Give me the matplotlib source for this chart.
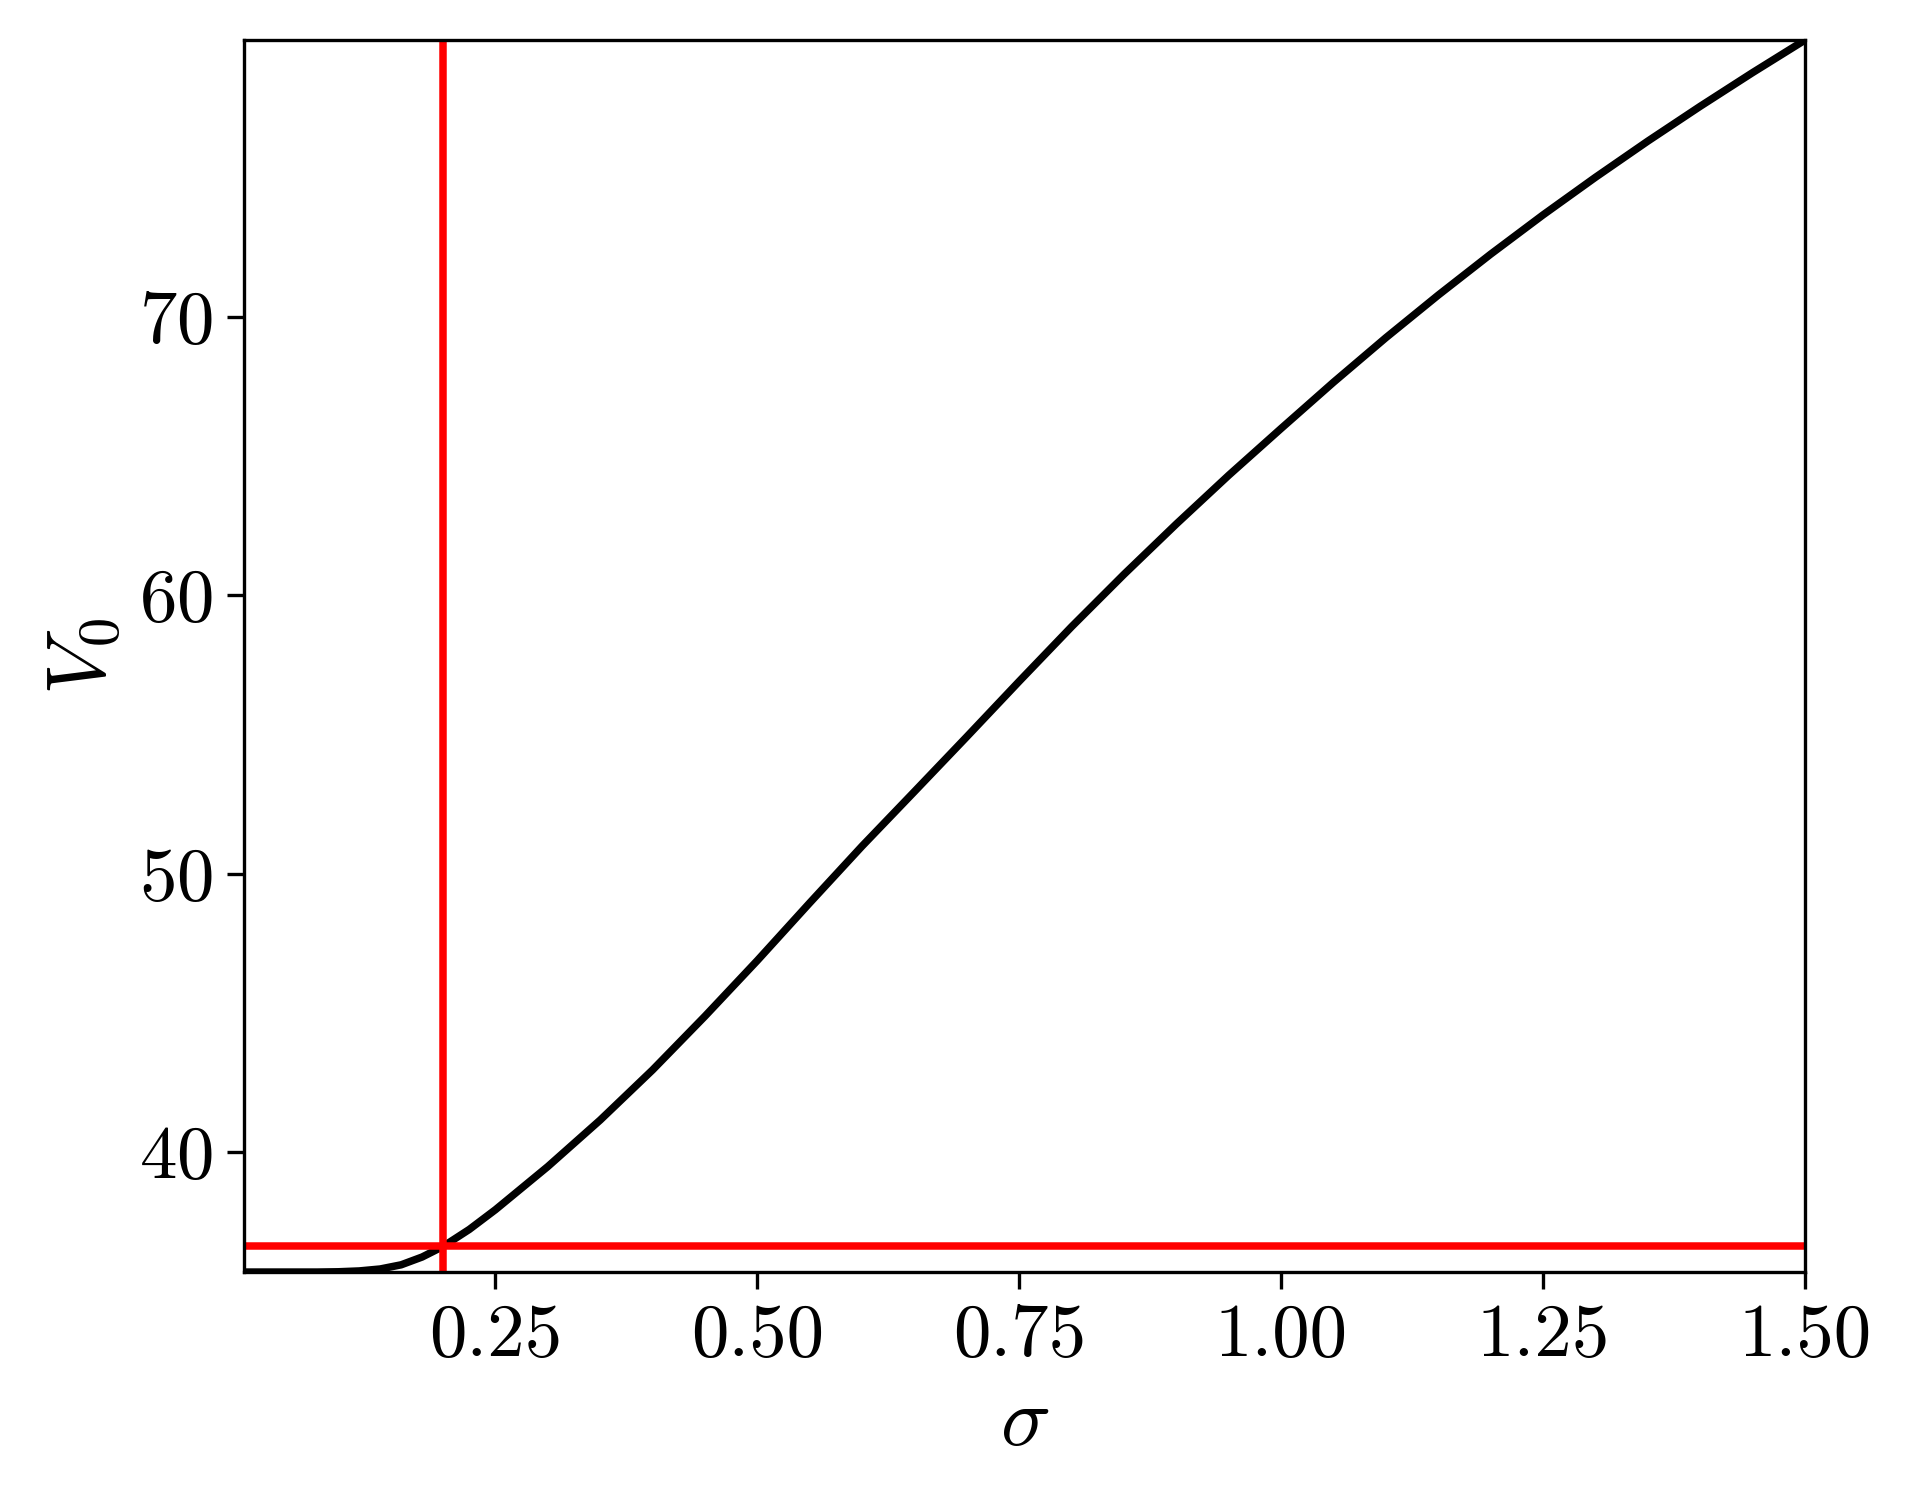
import numpy as np
import matplotlib
matplotlib.use("Agg")
import matplotlib.pyplot as plt

plt.rcParams['font.family'] = 'serif'
plt.rcParams['font.serif'] = ['cmr10']
plt.rcParams['mathtext.fontset'] = 'cm'
plt.rcParams['axes.formatter.use_mathtext'] = True
plt.rcParams['font.size'] = 18

# values
sigma = [0.01, 0.05, 0.08, 0.10, 0.12, 0.14, 0.16, 0.18, 0.20, 0.225,
         0.25, 0.30, 0.35, 0.40, 0.45, 0.50, 0.55, 0.60, 0.65, 0.70,
         0.75, 0.80, 0.85, 0.90, 0.95, 1.00, 1.05, 1.10, 1.15, 1.20,
         1.25, 1.30, 1.35, 1.40, 1.45, 1.50]
V0 = [35.69, 35.69, 35.69, 35.70, 35.73, 35.80, 35.95, 36.23, 36.61, 37.22,
      37.93, 39.48, 41.15, 42.95, 44.88, 46.88, 48.95, 50.99, 52.95, 54.92,
      56.91, 58.87, 60.75, 62.56, 64.31, 65.99, 67.65, 69.25, 70.78, 72.25,
      73.66, 75.01, 76.31, 77.56, 78.77, 79.94]

sigma_mark = 0.2
V0_mark = 36.61

fig = plt.figure(figsize=(6.37, 5.04), dpi=300)
ax = fig.add_axes([0.1277, 0.1587, 0.8168, 0.8148])

ax.plot(sigma, V0, color='black', lw=1.8)
ax.axvline(sigma_mark, color='red', lw=1.8)
ax.axhline(V0_mark, color='red', lw=1.8)

ax.set_xlim(min(sigma), max(sigma))
ax.set_ylim(min(V0), max(V0))
ax.set_xticks([0.25, 0.5, 0.75, 1.0, 1.25, 1.5])
ax.set_yticks([40, 50, 60, 70])
ax.set_xticklabels(['0.25', '0.50', '0.75', '1.00', '1.25', '1.50'])
ax.tick_params(length=4)

ax.set_xlabel(r'$\sigma$', fontsize=20)
ax.set_ylabel(r'$V_0$', fontsize=20)

fig.savefig('out.png', dpi=300)
